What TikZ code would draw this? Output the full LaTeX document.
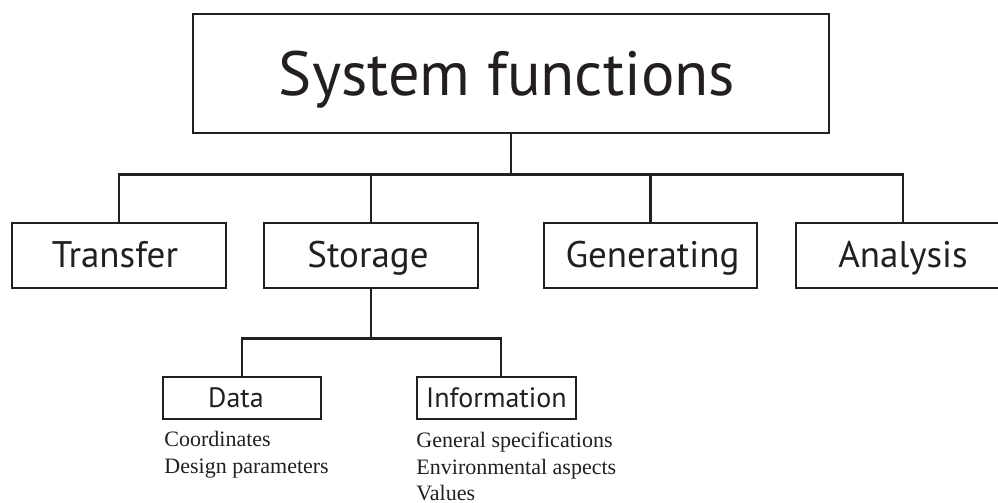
\documentclass[tikz,border=0pt]{standalone}
\usepackage{fontspec}
\setmainfont{Liberation Serif}
\newfontfamily\boxfont{PT Sans}
\definecolor{ink}{HTML}{231F20}
\begin{document}
\begin{tikzpicture}[x=1pt,y=-1pt,
  line width=2.9pt, draw=ink, text=ink,
  box/.style={draw=ink, line width=2.9pt, inner sep=0pt, minimum height=65pt, minimum width=214pt,
    text height=23pt, text depth=0pt, font=\boxfont\fontsize{37}{40}\selectfont},
  smallbox/.style={draw=ink, line width=2.9pt, inner sep=0pt, minimum height=42pt, minimum width=158pt,
    text height=18pt, text depth=0pt, font=\boxfont\fontsize{28}{30}\selectfont},
  item/.style={anchor=base west, inner sep=0pt, font=\fontsize{22}{26}\selectfont}]
\useasboundingbox (0,0) rectangle (998,503);
\clip (0,0) rectangle (998,503);
\node[draw=ink, line width=2.9pt, inner sep=0pt, minimum width=636pt, minimum height=119pt,
      text height=43pt, text depth=0pt,
      font=\boxfont\fontsize{62.5}{66}\selectfont] (top) at (511,73.5) {\kern-8pt System functions};
\node[box] (transfer) at (119,255.5) {\kern-8pt Transfer};
\node[box] (storage) at (371,255.5) {\kern-6pt Storage};
\node[box, minimum width=213pt] (generating) at (650.5,255.5) {\kern4pt Generating};
\node[box] (analysis) at (903,255.5) {Analysis};
\node[smallbox] (data) at (242,398) {\kern-12pt Data};
\node[smallbox, minimum width=159pt] (information) at (496.5,398) {Information};
\node[item] (coord) at (163,446) {Coordinates};
\node[item] (design) at (163,473) {Design parameters};
\node[item] (general) at (415,447) {General specifications};
\node[item] (environ) at (415,474) {Environmental aspects};
\node[item] (values) at (415,500) {Values};
\path (top.south) ++(0,40) coordinate (hub);
\draw (top.south) -- (hub);
\draw (transfer.north) |- (hub) -| (analysis.north);
\draw (storage.north) -- (storage.north |- hub);
\draw (generating.north) -- (generating.north |- hub);
\path (storage.south) ++(0,49) coordinate (subhub);
\draw (storage.south) -- (subhub);
\draw (data.north) |- (subhub) -| ([xshift=4.5pt]information.north);
\end{tikzpicture}
\end{document}
